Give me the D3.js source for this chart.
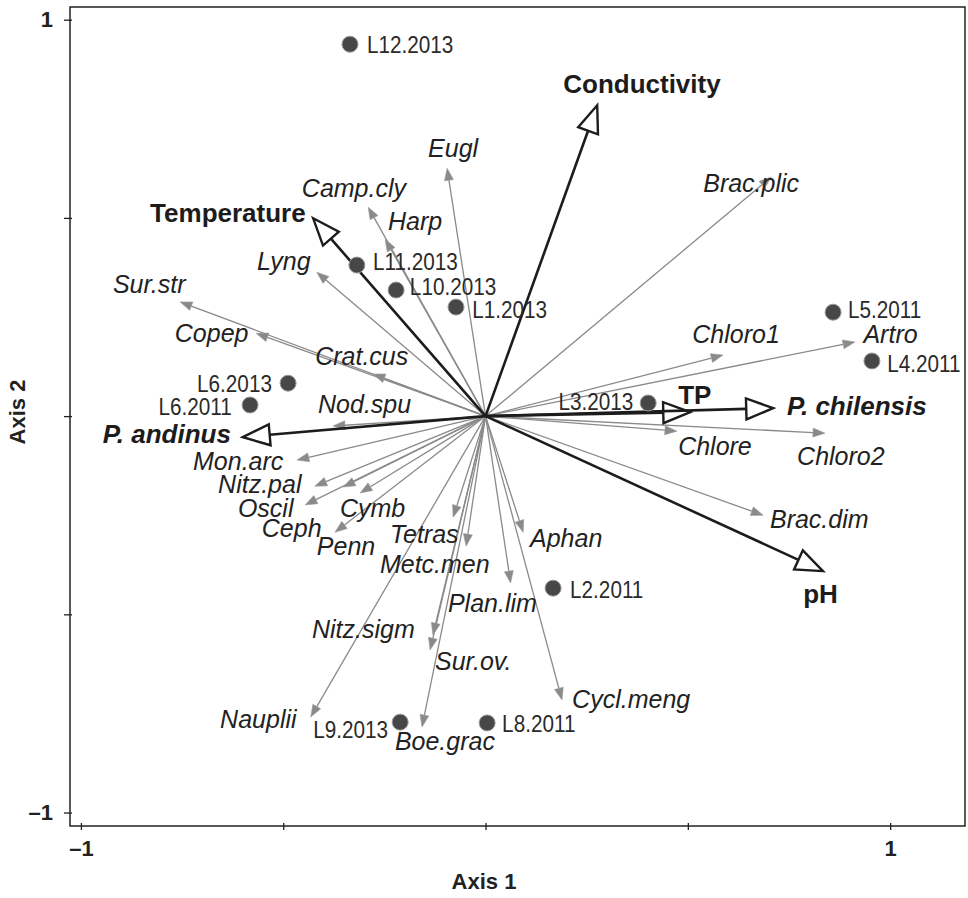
<!DOCTYPE html>
<html>
<head>
<meta charset="utf-8">
<script src="https://cdn.jsdelivr.net/npm/d3@7"></script>
<style>
  body { margin: 0; background: #fff; }
  text { font-family: "Liberation Sans", Arial, Helvetica, sans-serif; }
</style>
</head>
<body>
<div id="chart"></div>
<script>
// Species scores (gray arrows)
var species = ["Eugl", "Camp.cly", "Harp", "Lyng", "Sur.str", "Copep", "Crat.cus", "Nod.spu",
  "Mon.arc", "Nitz.pal", "Oscil", "Cymb", "Ceph", "Penn", "Tetras", "Metc.men", "Aphan",
  "Plan.lim", "Nitz.sigm", "Sur.ov.", "Boe.grac", "Cycl.meng", "Nauplii", "Brac.plic",
  "Chloro1", "Artro", "Chlore", "Chloro2", "Brac.dim"];
var speciesX = [-0.095, -0.290, -0.248, -0.417, -0.755, -0.567, -0.278, -0.377,
  -0.466, -0.422, -0.446, -0.310, -0.372, -0.352, -0.080, -0.048, 0.093,
  0.062, -0.130, -0.137, -0.157, 0.189, -0.432, 0.706,
  0.587, 0.913, 0.473, 0.839, 0.686];
var speciesY = [0.625, 0.527, 0.446, 0.363, 0.288, 0.209, 0.106, -0.025,
  -0.111, -0.177, -0.224, -0.194, -0.293, -0.179, -0.255, -0.328, -0.293,
  -0.421, -0.552, -0.590, -0.784, -0.716, -0.759, 0.603,
  0.154, 0.187, -0.038, -0.043, -0.250];
// where each species name sits (axis units, left end of the text on its baseline)
var speciesLabelX = [-0.142, -0.454, -0.241, -0.565, -0.921, -0.768, -0.421, -0.414,
  -0.723, -0.661, -0.612, -0.360, -0.553, -0.417, -0.236, -0.261, 0.110,
  -0.093, -0.429, -0.125, -0.224, 0.214, -0.656, 0.538,
  0.511, 0.934, 0.476, 0.770, 0.703];
var speciesLabelY = [0.653, 0.552, 0.469, 0.368, 0.310, 0.187, 0.129, 0.008,
  -0.136, -0.194, -0.255, -0.255, -0.305, -0.351, -0.320, -0.396, -0.330,
  -0.494, -0.560, -0.641, -0.842, -0.736, -0.787, 0.565,
  0.184, 0.184, -0.098, -0.124, -0.282];

// Environmental variables (black arrows)
var envVars = ["Conductivity", "Temperature", "P. andinus", "TP", "P. chilensis", "pH"];
var envX = [0.276, -0.426, -0.600, 0.506, 0.711, 0.834];
var envY = [0.784, 0.499, -0.053, 0.010, 0.020, -0.391];
var envLabelX = [0.192, -0.829, -0.946, 0.476, 0.745, 0.785];
var envLabelY = [0.815, 0.489, -0.068, 0.030, 0.003, -0.472];

// Sites (points)
var sites = ["L12.2013", "L11.2013", "L10.2013", "L1.2013", "L5.2011", "L4.2011",
  "L3.2013", "L6.2013", "L6.2011", "L2.2011", "L9.2013", "L8.2011"];
var siteX = [-0.335, -0.318, -0.221, -0.073, 0.859, 0.955, 0.402, -0.488, -0.582, 0.167, -0.211, 0.004];
var siteY = [0.938, 0.381, 0.318, 0.275, 0.262, 0.139, 0.033, 0.083, 0.028, -0.434, -0.772, -0.774];
var siteLabelX = [-0.293, -0.278, -0.187, -0.033, 0.896, 0.993, 0.365, -0.528, -0.627, 0.209, -0.241, 0.041];
var siteLabelY = [0.916, 0.368, 0.305, 0.247, 0.247, 0.111, 0.015, 0.061, 0.003, -0.459, -0.812, -0.797];

var tickVals = [-1, -0.5, 0, 0.5, 1];
var tickLabels = {"-1": "\u20131", "1": "1"};

var width = 968, height = 898;
var svg = d3.select("#chart").append("svg")
  .attr("width", width)
  .attr("height", height);

var x = d3.scaleLinear().domain([-1.027, 1.185]).range([70, 965]);
var y = d3.scaleLinear().domain([-1.034, 1.032]).range([826, 7]);

// axes
var xAxis = svg.append("g")
  .attr("transform", "translate(0,826)")
  .call(d3.axisBottom(x).tickValues(tickVals).tickSizeInner(4).tickSizeOuter(0).tickPadding(10)
    .tickFormat(function (d) { return tickLabels[d] || ""; }));
var yAxis = svg.append("g")
  .attr("transform", "translate(70,0)")
  .call(d3.axisLeft(y).tickValues(tickVals).tickSizeInner(6).tickSizeOuter(0).tickPadding(11)
    .tickFormat(function (d) { return tickLabels[d] || ""; }));

[xAxis, yAxis].forEach(function (a) {
  a.select(".domain").remove();
  a.selectAll("line").attr("stroke", "#222").attr("stroke-width", 1.3);
  a.selectAll("text").attr("fill", "#222").style("font-size", "22px").style("font-weight", "bold")
    .style("font-family", "'Liberation Sans', Arial, sans-serif");
});
xAxis.selectAll("line").attr("y1", -3);
yAxis.selectAll("line").attr("x1", 2);

// frame
svg.append("rect")
  .attr("x", x(-1.027)).attr("y", y(1.032))
  .attr("width", x(1.185) - x(-1.027))
  .attr("height", y(-1.034) - y(1.032))
  .attr("fill", "none")
  .attr("stroke", "#222")
  .attr("stroke-width", 1.5);

svg.append("text")
  .attr("x", 484).attr("y", 889)
  .attr("text-anchor", "middle")
  .style("font-size", "22px").style("font-weight", "bold").attr("fill", "#222")
  .text("Axis 1");
svg.append("text")
  .attr("transform", "translate(25,412) rotate(-90)")
  .attr("text-anchor", "middle")
  .style("font-size", "22px").style("font-weight", "bold").attr("fill", "#222")
  .text("Axis 2");

// helper: arrowhead polygon at the tip, pointing away from the origin
function headPoints(x0, y0, x1, y1, len, half) {
  var a = Math.atan2(y1 - y0, x1 - x0);
  var bx = x1 - len * Math.cos(a), by = y1 - len * Math.sin(a);
  var px = -Math.sin(a) * half, py = Math.cos(a) * half;
  return [[x1, y1], [bx + px, by + py], [bx - px, by - py]];
}

var ox = x(0), oy = y(0);

// species arrows
var sp = svg.append("g");
species.forEach(function (name, i) {
  var tx = x(speciesX[i]), ty = y(speciesY[i]);
  var h = headPoints(ox, oy, tx, ty, 12, 4.5);
  sp.append("line")
    .attr("x1", ox).attr("y1", oy)
    .attr("x2", (h[1][0] + h[2][0]) / 2).attr("y2", (h[1][1] + h[2][1]) / 2)
    .attr("stroke", "#8a8a8a").attr("stroke-width", 1.3);
  sp.append("polygon")
    .attr("points", h.map(function (p) { return p.join(","); }).join(" "))
    .attr("fill", "#8a8a8a").attr("stroke", "#9a9a9a").attr("stroke-width", 0.6);
});

// environmental arrows
var env = svg.append("g");
envVars.forEach(function (name, i) {
  var tx = x(envX[i]), ty = y(envY[i]);
  var h = headPoints(ox, oy, tx, ty, 27, 10.5);
  env.append("line")
    .attr("x1", ox).attr("y1", oy)
    .attr("x2", (h[1][0] + h[2][0]) / 2).attr("y2", (h[1][1] + h[2][1]) / 2)
    .attr("stroke", "#1c1c1c").attr("stroke-width", 2.6);
  env.append("polygon")
    .attr("points", h.map(function (p) { return p.join(","); }).join(" "))
    .attr("fill", "#fff").attr("stroke", "#1c1c1c").attr("stroke-width", 2.4)
    .attr("stroke-linejoin", "miter");
});

// site points
svg.append("g").selectAll("circle")
  .data(sites)
  .join("circle")
  .attr("cx", function (d, i) { return x(siteX[i]); })
  .attr("cy", function (d, i) { return y(siteY[i]); })
  .attr("r", 8)
  .attr("fill", "#474747")
  .attr("stroke", "#9a9a9a")
  .attr("stroke-width", 1);

// labels
svg.append("g").selectAll("text")
  .data(species)
  .join("text")
  .attr("x", function (d, i) { return x(speciesLabelX[i]); })
  .attr("y", function (d, i) { return y(speciesLabelY[i]); })
  .style("font-size", "25px").style("font-style", "italic")
  .attr("fill", "#222")
  .text(function (d) { return d; });

svg.append("g").selectAll("text")
  .data(envVars)
  .join("text")
  .attr("x", function (d, i) { return x(envLabelX[i]); })
  .attr("y", function (d, i) { return y(envLabelY[i]); })
  .style("font-size", "26px").style("font-weight", "bold")
  .style("font-style", function (d) { return d.indexOf("P. ") === 0 ? "italic" : "normal"; })
  .attr("fill", "#1c1c1c")
  .text(function (d) { return d; });

svg.append("g").selectAll("text")
  .data(sites)
  .join("text")
  .attr("transform", function (d, i) {
    return "translate(" + x(siteLabelX[i]) + "," + y(siteLabelY[i]) + ") scale(0.9,1)";
  })
  .attr("text-anchor", function (d, i) { return siteLabelX[i] < siteX[i] ? "end" : "start"; })
  .style("font-size", "23px")
  .attr("fill", "#2a2a2a")
  .text(function (d) { return d; });
</script>
</body>
</html>
